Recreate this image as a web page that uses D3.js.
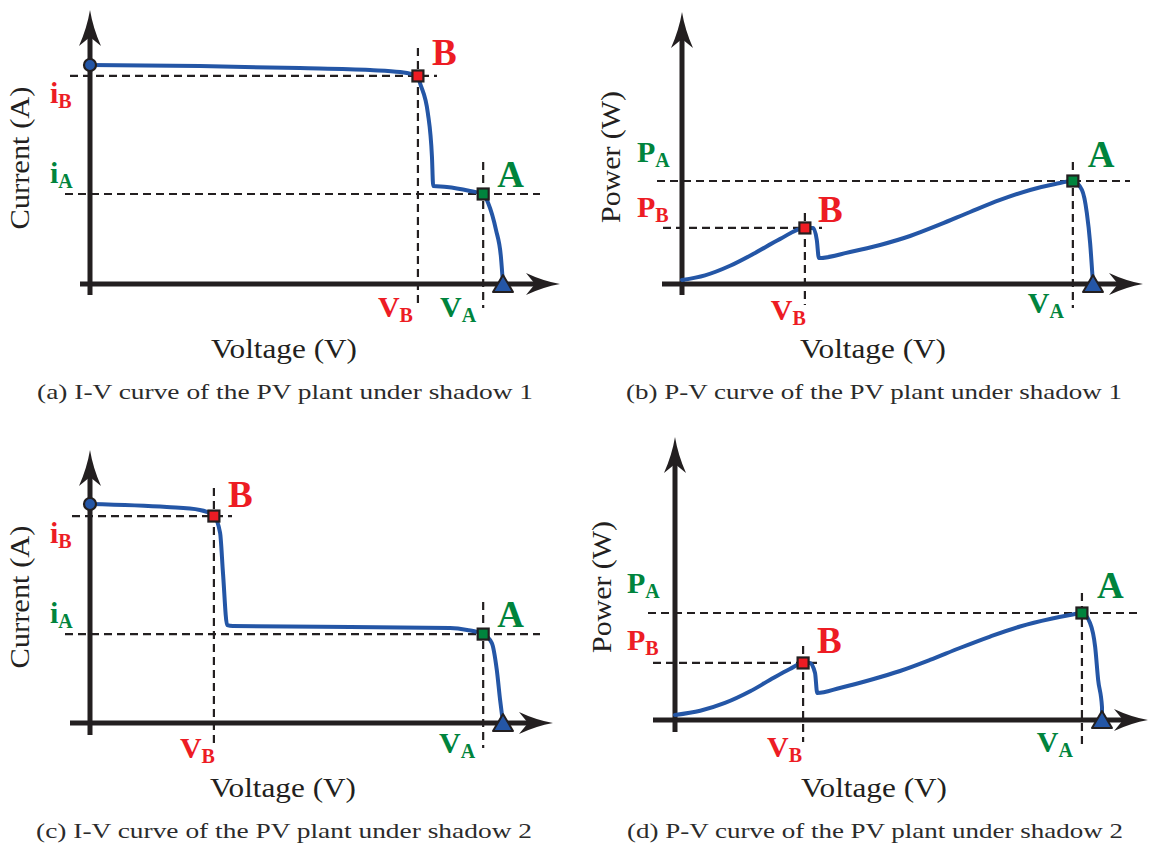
<!DOCTYPE html>
<html><head><meta charset="utf-8">
<script src="https://cdn.jsdelivr.net/npm/d3@7"></script>
<style>body{margin:0;background:#fff}</style>
</head><body>
<svg id="chart" width="1149" height="845"></svg>
<script>
// ---------------- data (arbitrary units) ----------------
// (a) I-V curve, shadow 1  (voltage 0..100 = Voc, current 0..10 = Isc)
const ivShadow1Voltage = [0, 26.6, 50.8, 67.8, 75.1, 79.4, 79.9, 81.8, 82.8, 83.1, 86.4, 92.0, 95.2, 96.4, 98.3, 99.5, 100];
const ivShadow1Current = [10, 9.95, 9.86, 9.77, 9.68, 9.50, 9.18, 7.81, 5.80, 4.47, 4.43, 4.25, 4.11, 3.70, 2.47, 1.23, 0];
// (b) P-V curve, shadow 1  (power 0..100 = P_A)
const pvShadow1Voltage = [0, 5.6, 11.7, 17.8, 23.8, 29.9, 31.9, 32.8, 33.3, 40.9, 48.2, 55.5, 62.8, 70.1, 77.4, 84.7, 90.8, 95.1, 97.3, 98.5, 99.3, 99.8, 100];
const pvShadow1Power   = [3.9, 8.4, 17.7, 30.2, 43.6, 54.4, 54.4, 42.7, 25.2, 31.1, 37.9, 46.6, 57.8, 69.9, 81.6, 91.3, 97.1, 100, 91.3, 68.9, 39.8, 12.0, 0];
// (c) I-V curve, shadow 2
const ivShadow2Voltage = [0, 18.6, 26.6, 30.0, 31.5, 32.2, 33.2, 34.6, 63.0, 87.2, 91.3, 95.2, 97.3, 98.5, 99.3, 100];
const ivShadow2Current = [10, 9.86, 9.73, 9.45, 8.68, 6.85, 4.47, 4.43, 4.38, 4.34, 4.25, 4.06, 3.65, 2.42, 1.05, 0];
// (d) P-V curve, shadow 2
const pvShadow2Voltage = [0, 5.9, 11.7, 17.6, 22.2, 26.9, 30.0, 31.6, 32.8, 33.3, 38.6, 45.7, 52.7, 59.7, 66.7, 73.8, 80.8, 87.8, 92.5, 95.3, 97.2, 98.4, 99.1, 100, 100];
const pvShadow2Power   = [4.7, 8.6, 15.9, 26.8, 37.3, 47.6, 53.3, 53.3, 43.9, 25.2, 29.9, 37.4, 45.8, 56.1, 67.3, 78.0, 87.4, 94.4, 98.1, 100, 90.7, 68.2, 37.4, 12.1, 0];

// marked points: [start (Isc / origin), B, A, end (Voc)]
const markerKinds = ["start", "B", "A", "end"];
const ivShadow1MarkV = [0, 79.4, 95.2, 100];
const ivShadow1MarkY = [10, 9.50, 4.11, 0];
const pvShadow1MarkV = [null, 29.9, 95.1, 100];
const pvShadow1MarkY = [null, 54.4, 100, 0];
const ivShadow2MarkV = [0, 30.0, 95.2, 100];
const ivShadow2MarkY = [10, 9.45, 4.06, 0];
const pvShadow2MarkV = [null, 30.0, 95.3, 100];
const pvShadow2MarkY = [null, 53.3, 100, 0];

// tick-style labels
const ivTickSymbols = ["i", "i"];      // i_B , i_A
const pvTickSymbols = ["P", "P"];      // P_B , P_A
const voltTickSymbols = ["V", "V"];    // V_B , V_A
const tickSubscripts = ["B", "A"];
const pointNames = ["B", "A"];
const xTitle = "Voltage (V)";
const yTitles = ["Current (A)", "Power (W)"];
const captions = [
  "(a) I-V curve of the PV plant under shadow 1",
  "(b) P-V curve of the PV plant under shadow 1",
  "(c) I-V curve of the PV plant under shadow 2",
  "(d) P-V curve of the PV plant under shadow 2"
];

// ---------------- styles ----------------
const RED = "#ED1C24", GREEN = "#00843D", BLUE = "#2456A6", INK = "#231F20";
const SERIF = "'Liberation Serif', 'Times New Roman', serif";

// ---------------- layout (pixels) ----------------
const panels = [
  { kind:0, V:ivShadow1Voltage, Y:ivShadow1Current, mV:ivShadow1MarkV, mY:ivShadow1MarkY, yMax:10,
    ox:90, oy:284, xr:503, yr:65, xFrom:80, xTip:560, yFrom:295, yTip:10,
    hB:[70,437], hA:[65,540], vB:[48,303], vA:[162,308],
    lblB:[14,-11], lblA:[14,-7], yLblX:50, yLblB:27, yLblA:-11,
    xLblB:[-5,317], xLblA:[-7,317], title:[284,358], ytitle:[29,158], cap:[285,399] },
  { kind:1, V:pvShadow1Voltage, Y:pvShadow1Power, mV:pvShadow1MarkV, mY:pvShadow1MarkY, yMax:100,
    ox:682, oy:284, xr:1093, yr:181, xFrom:662, xTip:1143, yFrom:295, yTip:12,
    hB:[663,822], hA:[657,1130], vB:[213,305], vA:[162,308],
    lblB:[13,-6], lblA:[15,-14], yLblX:637, yLblB:-11, yLblA:-19,
    xLblB:[1,320], xLblA:[-9,313], title:[873,358], ytitle:[620,157], cap:[874,399] },
  { kind:0, V:ivShadow2Voltage, Y:ivShadow2Current, mV:ivShadow2MarkV, mY:ivShadow2MarkY, yMax:10,
    ox:90, oy:723, xr:503, yr:504, xFrom:70, xTip:553, yFrom:735, yTip:450,
    hB:[72,232], hA:[65,540], vB:[488,743], vA:[602,748],
    lblB:[14,-9], lblA:[14,-7], yLblX:50, yLblB:27, yLblA:-11,
    xLblB:[1,758], xLblA:[-8,753], title:[283,797], ytitle:[29,597], cap:[284,838] },
  { kind:1, V:pvShadow2Voltage, Y:pvShadow2Power, mV:pvShadow2MarkV, mY:pvShadow2MarkY, yMax:100,
    ox:675, oy:720, xr:1102, yr:613, xFrom:653, xTip:1148, yFrom:732, yTip:437,
    hB:[653,820], hA:[648,1142], vB:[646,742], vA:[593,745],
    lblB:[14,-10], lblA:[15,-15], yLblX:627, yLblB:-13, yLblA:-20,
    xLblB:[-1,757], xLblA:[-9,752], title:[874,797], ytitle:[611,587], cap:[875,838] }
];

const svg = d3.select("#chart");

function arrowRight(tx, ty) {
  return `M${tx},${ty} Q${tx-17},${ty-3} ${tx-34},${ty-11} L${tx-25},${ty} L${tx-34},${ty+11} Q${tx-17},${ty+3} ${tx},${ty} Z`;
}
function arrowUp(tx, ty) {
  return `M${tx},${ty} Q${tx-3},${ty+18} ${tx-11},${ty+36} L${tx},${ty+27} L${tx+11},${ty+36} Q${tx+3},${ty+18} ${tx},${ty} Z`;
}

function subLabel(g, x, y, main, sub, color, anchor) {
  const t = g.append("text").attr("x", x).attr("y", y)
    .attr("font-family", SERIF).attr("font-weight", "bold")
    .attr("font-size", 30).attr("fill", color).attr("text-anchor", anchor);
  t.append("tspan").text(main);
  t.append("tspan").attr("font-size", 20).attr("dy", 5).text(sub);
}

panels.forEach((p, idx) => {
  const g = svg.append("g");
  const x = d3.scaleLinear().domain([0, 100]).range([p.ox, p.xr]);
  const y = d3.scaleLinear().domain([0, p.yMax]).range([p.oy, p.yr]);

  const bX = x(p.mV[1]), bY = y(p.mY[1]);
  const aX = x(p.mV[2]), aY = y(p.mY[2]);

  // dashed guides
  const dash = (x1, y1, x2, y2) => g.append("line")
    .attr("x1", x1).attr("y1", y1).attr("x2", x2).attr("y2", y2)
    .attr("stroke", INK).attr("stroke-width", 2.2).attr("stroke-dasharray", "8,5");
  dash(p.hB[0], bY, p.hB[1], bY);
  dash(p.hA[0], aY, p.hA[1], aY);
  dash(bX, p.vB[0], bX, p.vB[1]);
  dash(aX, p.vA[0], aX, p.vA[1]);

  // axes
  g.append("line").attr("x1", p.xFrom).attr("y1", p.oy).attr("x2", p.xTip - 22).attr("y2", p.oy)
    .attr("stroke", INK).attr("stroke-width", 5);
  g.append("path").attr("d", arrowRight(p.xTip, p.oy)).attr("fill", INK);
  g.append("line").attr("x1", p.ox).attr("y1", p.yFrom).attr("x2", p.ox).attr("y2", p.yTip + 22)
    .attr("stroke", INK).attr("stroke-width", 5);
  g.append("path").attr("d", arrowUp(p.ox, p.yTip)).attr("fill", INK);

  // curve
  const pts = p.V.map((v, i) => [v, p.Y[i]]);
  const line = d3.line().x(d => x(d[0])).y(d => y(d[1])).curve(d3.curveMonotoneX);
  g.append("path").attr("d", line(pts)).attr("fill", "none")
    .attr("stroke", BLUE).attr("stroke-width", 4).attr("stroke-linejoin", "round").attr("stroke-linecap", "round");

  // markers
  markerKinds.forEach((k, i) => {
    if (p.mV[i] === null) return;
    const cx = x(p.mV[i]), cy = y(p.mY[i]);
    if (k === "start") {
      g.append("circle").attr("cx", cx).attr("cy", cy).attr("r", 6)
        .attr("fill", BLUE).attr("stroke", INK).attr("stroke-width", 2.2);
    } else if (k === "end") {
      g.append("path").attr("d", `M${cx},${cy-9} L${cx+10},${cy+8} L${cx-10},${cy+8} Z`)
        .attr("fill", BLUE).attr("stroke", INK).attr("stroke-width", 2).attr("stroke-linejoin", "round");
    } else {
      g.append("rect").attr("x", cx - 5.5).attr("y", cy - 5.5).attr("width", 11).attr("height", 11)
        .attr("fill", k === "B" ? RED : GREEN).attr("stroke", INK).attr("stroke-width", 2.2);
    }
  });

  // point names
  g.append("text").attr("x", bX + p.lblB[0]).attr("y", bY + p.lblB[1])
    .attr("font-family", SERIF).attr("font-weight", "bold").attr("font-size", 37).attr("fill", RED).text(pointNames[0]);
  g.append("text").attr("x", aX + p.lblA[0]).attr("y", aY + p.lblA[1])
    .attr("font-family", SERIF).attr("font-weight", "bold").attr("font-size", 37).attr("fill", GREEN).text(pointNames[1]);

  // y-axis value labels
  const ySyms = p.kind === 0 ? ivTickSymbols : pvTickSymbols;
  subLabel(g, p.yLblX, bY + p.yLblB, ySyms[0], tickSubscripts[0], RED, "start");
  subLabel(g, p.yLblX, aY + p.yLblA, ySyms[1], tickSubscripts[1], GREEN, "start");
  // x-axis value labels
  subLabel(g, bX + p.xLblB[0], p.xLblB[1], voltTickSymbols[0], tickSubscripts[0], RED, "end");
  subLabel(g, aX + p.xLblA[0], p.xLblA[1], voltTickSymbols[1], tickSubscripts[1], GREEN, "end");

  // axis titles
  g.append("text").attr("x", p.title[0]).attr("y", p.title[1]).attr("text-anchor", "middle")
    .attr("font-family", SERIF).attr("font-size", 28).attr("fill", INK)
    .attr("textLength", 146).attr("lengthAdjust", "spacingAndGlyphs").text(xTitle);
  g.append("text").attr("transform", `translate(${p.ytitle[0]},${p.ytitle[1]}) rotate(-90)`)
    .attr("text-anchor", "middle").attr("font-family", SERIF).attr("font-size", 28).attr("fill", INK)
    .attr("textLength", p.kind === 0 ? 143 : 132).attr("lengthAdjust", "spacingAndGlyphs")
    .text(yTitles[p.kind]);

  // caption
  g.append("text").attr("x", p.cap[0]).attr("y", p.cap[1]).attr("text-anchor", "middle")
    .attr("font-family", SERIF).attr("font-size", 21).attr("fill", "#2b2b2b")
    .attr("textLength", 496).attr("lengthAdjust", "spacingAndGlyphs").text(captions[idx]);
});
</script>
</body></html>
